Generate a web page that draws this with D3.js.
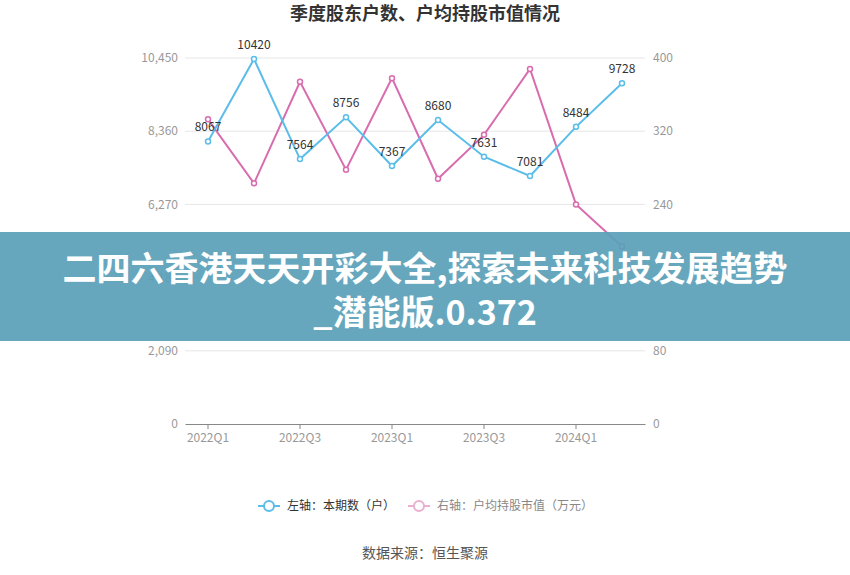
<!DOCTYPE html>
<html><head><meta charset="utf-8">
<script src="https://cdn.jsdelivr.net/npm/d3@7"></script>
<style>body{margin:0;background:#fff;}svg{display:block;font-family:"Noto Sans CJK SC","Noto Sans",sans-serif;}</style>
</head><body>
<script>
const categories = ["2022Q1","2022Q2","2022Q3","2022Q4","2023Q1","2023Q2","2023Q3","2023Q4","2024Q1","2024Q2"];
const holders = [8067,10420,7564,8756,7367,8680,7631,7081,8484,9728];
const avgValue = [333,263,374,278,378,268,316,388,240,194];
const leftTicks = [0,2090,4180,6270,8360,10450];
const rightTicks = [0,80,160,240,320,400];
const xTickLabels = ["2022Q1","2022Q3","2023Q1","2023Q3","2024Q1"];
const title = "季度股东户数、户均持股市值情况";
const legendLabels = ["左轴：本期数（户）","右轴：户均持股市值（万元）"];
const source = "数据来源：恒生聚源";
const bannerLines = ["二四六香港天天开彩大全,探索未来科技发展趋势","_潜能版.0.372"];

(function(){
const W=850,H=575;
const svg=d3.select("body").append("svg").attr("width",W).attr("height",H);
const pL=185,pR=645,pT=58,pB=424;
const x=d3.scaleBand().domain(categories).range([pL,pR]);
const yL=d3.scaleLinear().domain([0,10450]).range([pB,pT]);
const yR=d3.scaleLinear().domain([0,400]).range([pB,pT]);
const blue="#5bbde9", pink="#d86cae";

svg.append("text").attr("x",425).attr("y",14).attr("dy","0.36em").attr("text-anchor","middle")
  .attr("font-size",18).attr("font-weight","bold").attr("fill","#333").text(title);

svg.append("g").selectAll("line").data(leftTicks.slice(1)).join("line")
  .attr("x1",pL).attr("x2",pR).attr("y1",d=>yL(d)).attr("y2",d=>yL(d))
  .attr("stroke","#e6e6e6").attr("stroke-width",1);

svg.append("g").selectAll("text").data(leftTicks).join("text")
  .attr("x",178).attr("y",d=>yL(d)).attr("dy","0.35em").attr("text-anchor","end")
  .attr("font-size",12).attr("fill","#999").text(d=>d3.format(",")(d));
svg.append("g").selectAll("text").data(rightTicks).join("text")
  .attr("x",653).attr("y",d=>yR(d)).attr("dy","0.35em").attr("text-anchor","start")
  .attr("font-size",12).attr("fill","#999").text(d=>d);

const xAxis=svg.append("g").attr("transform",`translate(0,${pB})`)
  .call(d3.axisBottom(x).tickValues(xTickLabels).tickSize(5).tickSizeOuter(0));
xAxis.select(".domain").attr("stroke","#888");
xAxis.selectAll(".tick line").attr("stroke","#888");
xAxis.selectAll(".tick text").attr("fill","#999").attr("font-size",12).attr("dy","0.85em")
  .attr("font-family","'Noto Sans CJK SC','Noto Sans',sans-serif");

const cx=(i)=>x(categories[i])+x.bandwidth()/2;
svg.append("path").datum(avgValue).attr("fill","none").attr("stroke",pink).attr("stroke-width",2)
  .attr("d",d3.line().x((d,i)=>cx(i)).y(d=>yR(d)));
svg.append("g").selectAll("circle").data(avgValue).join("circle")
  .attr("cx",(d,i)=>cx(i)).attr("cy",d=>yR(d)).attr("r",2.5)
  .attr("fill","#fff").attr("stroke",pink).attr("stroke-width",1.5);
svg.append("path").datum(holders).attr("fill","none").attr("stroke",blue).attr("stroke-width",2)
  .attr("d",d3.line().x((d,i)=>cx(i)).y(d=>yL(d)));
svg.append("g").selectAll("circle").data(holders).join("circle")
  .attr("cx",(d,i)=>cx(i)).attr("cy",d=>yL(d)).attr("r",2.5)
  .attr("fill","#fff").attr("stroke",blue).attr("stroke-width",1.5);
svg.append("g").selectAll("text").data(holders).join("text")
  .attr("x",(d,i)=>cx(i)).attr("y",d=>yL(d)-10).attr("text-anchor","middle")
  .attr("font-size",12).attr("fill","#333").text(d=>d);

const lg=svg.append("g");
lg.append("line").attr("x1",258).attr("x2",280).attr("y1",506).attr("y2",506).attr("stroke",blue).attr("stroke-width",2);
lg.append("circle").attr("cx",269).attr("cy",506).attr("r",5).attr("fill","#fff").attr("stroke",blue).attr("stroke-width",2);
lg.append("text").attr("x",287).attr("y",506).attr("dy","0.35em").attr("font-size",12).attr("fill","#333").text(legendLabels[0]);
lg.append("line").attr("x1",408).attr("x2",430).attr("y1",506).attr("y2",506).attr("stroke","#eab0d2").attr("stroke-width",2);
lg.append("circle").attr("cx",419).attr("cy",506).attr("r",5).attr("fill","#fff").attr("stroke","#eab0d2").attr("stroke-width",2);
lg.append("text").attr("x",437).attr("y",506).attr("dy","0.35em").attr("font-size",12).attr("fill","#888").text(legendLabels[1]);

svg.append("text").attr("x",425).attr("y",553).attr("dy","0.35em").attr("text-anchor","middle")
  .attr("font-size",14).attr("fill","#555").text(source);

svg.append("rect").attr("x",0).attr("y",232).attr("width",W).attr("height",109)
  .attr("fill","#5a9fb9").attr("opacity",0.92);
svg.append("g").selectAll("text").data(bannerLines).join("text")
  .attr("x",425).attr("y",(d,i)=>268+i*44).attr("dy","0.38em").attr("text-anchor","middle")
  .attr("font-size",34).attr("font-weight","bold").attr("fill","#fff").text(d=>d);
})();
</script>
</body></html>
